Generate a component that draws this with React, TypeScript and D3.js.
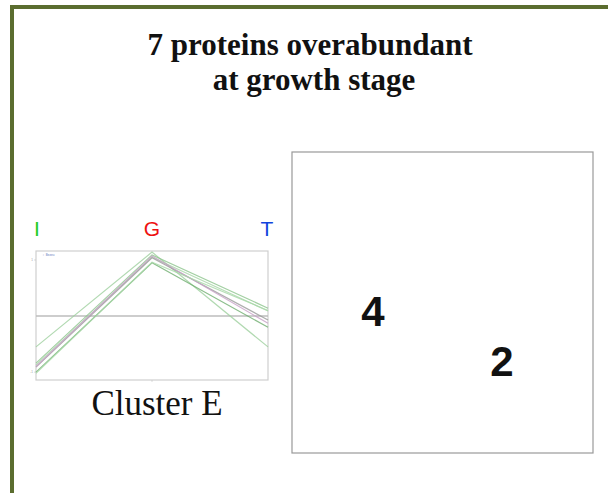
import * as d3 from "d3";

// stages on the x axis of the cluster profile
const stages = ["I", "G", "T"];
const stageColors = ["#22cc22", "#ee1111", "#1144dd"];

// standardised abundance of each protein in cluster E (I, G, T)
const proteinNames = ["p1", "p2", "p3", "p4", "p5", "p6", "p7"];
const profiles = [
  [-0.55, 1.14, -0.55],
  [-0.84, 1.09, 0.14],
  [-0.87, 1.05, 0.09],
  [-0.91, 1.04, -0.07],
  [-0.9, 1.07, -0.13],
  [-1.0, 0.95, -0.2],
  [-1.02, 0.96, 0.1],
];
const lineColors = ["#9ed09e", "#8cc48c", "#a6d6a6", "#9a9a9a", "#c7a0c7", "#6fae6f", "#a8d8a8"];

// counts shown in the right panel
const counts = [4, 2];

const yTicks = [-1, 1];

export default function App() {
  const W = 608;
  const H = 493;

  const plot = { left: 36, right: 268, top: 251, bottom: 380 };

  const scX = d3.scalePoint<string>().domain(stages).range([plot.left, plot.right]);
  const scY = d3.scaleLinear().domain([-1.14, 1.16]).range([plot.bottom, plot.top]);

  const line = d3
    .line<number>()
    .x((_, i) => scX(stages[i]) as number)
    .y((d) => scY(d));

  // positions of the count labels inside the right box
  const countPos = [
    { x: 373, y: 326 },
    { x: 502, y: 376 },
  ];

  return (
    <svg
      width={W}
      height={H}
      style={{ position: "absolute", left: 0, top: 0, background: "#fff" }}
    >
      {/* outer frame */}
      <rect x={12} y={7} width={W + 20} height={H + 20} fill="none" stroke="#5b6d2f" strokeWidth={4} />

      <text
        x={310}
        y={55}
        textAnchor="middle"
        fontFamily="'Liberation Serif', serif"
        fontWeight="bold"
        fontSize={31}
        fill="#111"
      >
        7 proteins overabundant
      </text>
      <text
        x={314}
        y={90}
        textAnchor="middle"
        fontFamily="'Liberation Serif', serif"
        fontWeight="bold"
        fontSize={31}
        fill="#111"
      >
        at growth stage
      </text>

      {/* stage letters */}
      {stages.map((s, i) => (
        <text
          key={s}
          x={(scX(s) as number) + (i === 0 ? 1 : i === 2 ? -1 : 0)}
          y={236}
          textAnchor="middle"
          fontFamily="'Liberation Sans', Arial, sans-serif"
          fontSize={21}
          fill={stageColors[i]}
        >
          {s}
        </text>
      ))}

      {/* profile plot */}
      <rect
        x={plot.left}
        y={plot.top}
        width={plot.right - plot.left}
        height={plot.bottom - plot.top}
        fill="#fff"
        stroke="#cfcfcf"
        strokeWidth={1.2}
      />
      <line x1={plot.left} x2={plot.right} y1={scY(0)} y2={scY(0)} stroke="#bdbdbd" strokeWidth={1.5} />
      {yTicks.map((t) => (
        <g key={t}>
          <line x1={plot.left - 2} x2={plot.left} y1={scY(t)} y2={scY(t)} stroke="#bbb" strokeWidth={0.5} />
          <text x={plot.left - 3} y={scY(t) + 1} textAnchor="end" fontSize={3} fill="#999" fontFamily="sans-serif">
            {t}
          </text>
        </g>
      ))}
      <line x1={scX("G")} x2={scX("G")} y1={plot.bottom} y2={plot.bottom + 2} stroke="#bbb" strokeWidth={0.5} />
      <text x={plot.left + 6} y={plot.top + 5} fontSize={3} fill="#6677bb" fontFamily="sans-serif">
        ⊤ Bezeu
      </text>
      {profiles.map((p, i) => (
        <path
          key={proteinNames[i]}
          d={line(p) as string}
          fill="none"
          stroke={lineColors[i]}
          strokeWidth={1.2}
          strokeOpacity={0.8}
        />
      ))}

      <text
        x={157}
        y={415}
        textAnchor="middle"
        fontFamily="'Liberation Serif', serif"
        fontSize={35}
        fill="#111"
      >
        Cluster E
      </text>

      {/* right panel */}
      <rect x={292} y={152} width={301} height={301} fill="#fff" stroke="#999" strokeWidth={1.2} />
      {counts.map((c, i) => (
        <text
          key={i}
          x={countPos[i].x}
          y={countPos[i].y}
          textAnchor="middle"
          fontFamily="'Liberation Sans', Arial, sans-serif"
          fontWeight="bold"
          fontSize={42}
          fill="#111"
        >
          {c}
        </text>
      ))}
    </svg>
  );
}
